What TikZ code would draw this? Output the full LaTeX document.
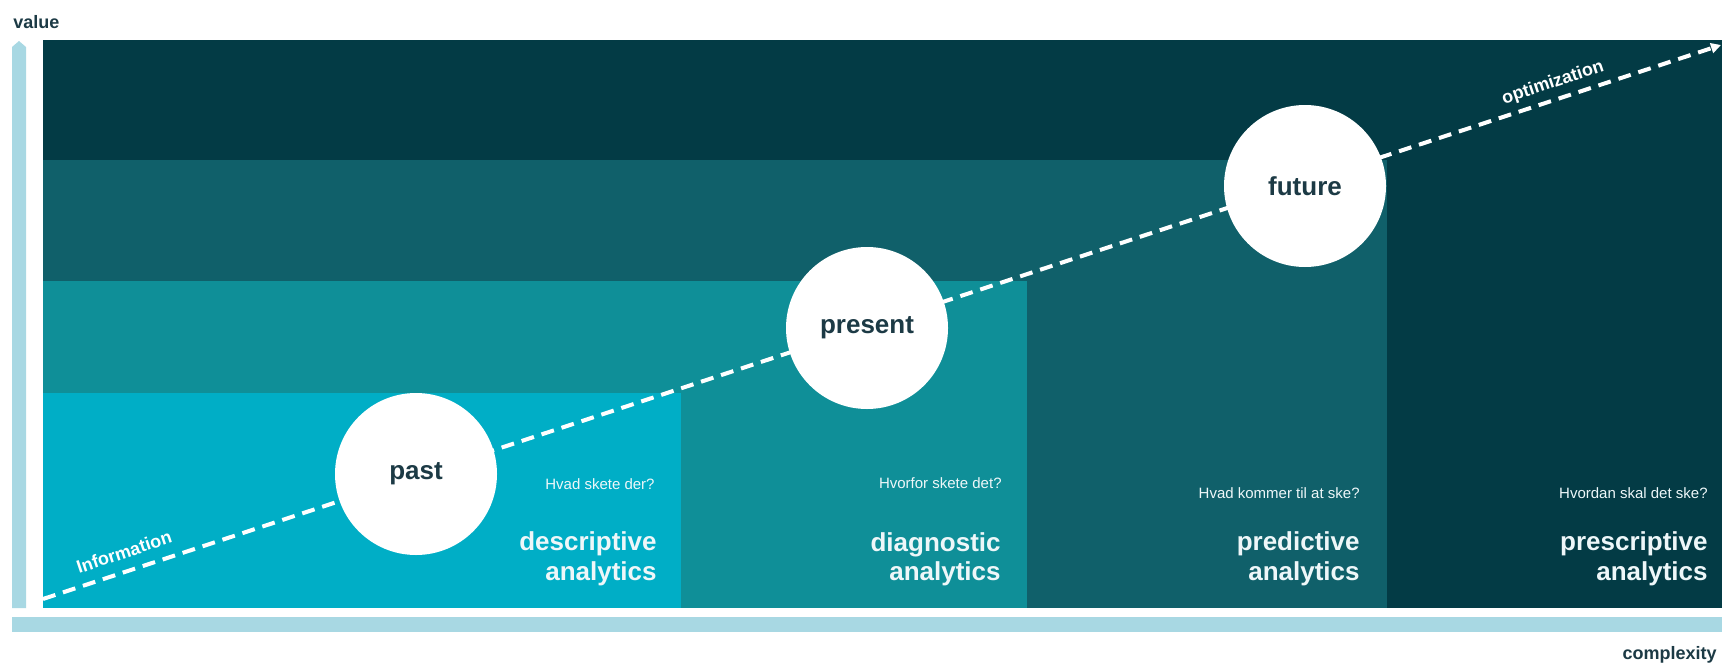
\documentclass[tikz,border=0pt]{standalone}
\usepackage{fontspec}
\setmainfont{Liberation Sans}
\usetikzlibrary{arrows.meta}
\definecolor{bandA}{HTML}{033B45}
\definecolor{bandB}{HTML}{10606A}
\definecolor{bandC}{HTML}{0F8F98}
\definecolor{bandD}{HTML}{00AEC6}
\definecolor{axisblue}{HTML}{A8D8E3}
\definecolor{darktext}{HTML}{1C3A45}
\definecolor{lighttext}{HTML}{EEF7F9}
\tikzset{
  era/.style={circle, fill=white, minimum size=81pt, inner sep=0pt,
    font=\bfseries\fontsize{13}{15}\selectfont, text=darktext},
  question/.style={anchor=base east, inner sep=0pt, text=lighttext,
    font=\fontsize{7.5}{9}\selectfont},
  kind/.style={anchor=base east, inner sep=0pt, text=lighttext,
    font=\bfseries\fontsize{13}{15}\selectfont},
  axislabel/.style={inner sep=0pt, text=darktext,
    font=\bfseries\fontsize{9}{11}\selectfont},
  linelabel/.style={inner sep=0pt, text=white, rotate=18.5,
    font=\bfseries\fontsize{9}{11}\selectfont},
  trend/.style={white, line width=2pt, dash pattern=on 6.5pt off 4pt,
    -{Triangle[length=5pt,width=5pt]}}
}
\begin{document}
\begin{tikzpicture}[x=0.5pt,y=-0.5pt]
\useasboundingbox (0,0) rectangle (1722,664);
\fill[white] (0,0) rectangle (1722,664);
% stacked bands
\fill[bandA] (43,40) rectangle (1722,608);
\fill[bandB] (43,160) rectangle (1387,608);
\fill[bandC] (43,281) rectangle (1027,608);
\fill[bandD] (43,393) rectangle (681,608);
% axes
\fill[axisblue] (12,608) -- (12,47) -- (19,41) -- (26,47) -- (26,608) -- cycle;
\fill[axisblue] (12,617) rectangle (1722,632);
\node[axislabel, anchor=base west] (value) at (13,28) {value};
\node[axislabel, anchor=base east] (complexity) at (1717,659) {complexity};
% trend line
\coordinate (lstart) at (43,599);
\coordinate (lend) at (1721,45);
\draw[trend] (lstart) -- (lend);
\node[linelabel] (info) at (124,552) {Information};
\node[linelabel] (optim) at (1553,83) {optimization};
% eras
\node[era] (past) at (416,474) {past};
\node[era] (present) at (867,328) {present};
\node[era] (future) at (1305,186) {future};
% column labels
\node[question] (q1) at (655,489) {Hvad skete der?};
\node[kind] (k1a) at (657,550) {descriptive};
\node[kind] (k1b) at (657,580) {analytics};
\node[question] (q2) at (1002,488) {Hvorfor skete det?};
\node[kind] (k2a) at (1001,551) {diagnostic};
\node[kind] (k2b) at (1001,580) {analytics};
\node[question] (q3) at (1360,498) {Hvad kommer til at ske?};
\node[kind] (k3a) at (1360,550) {predictive};
\node[kind] (k3b) at (1360,580) {analytics};
\node[question] (q4) at (1708,498) {Hvordan skal det ske?};
\node[kind] (k4a) at (1708,550) {prescriptive};
\node[kind] (k4b) at (1708,580) {analytics};
\end{tikzpicture}
\end{document}
